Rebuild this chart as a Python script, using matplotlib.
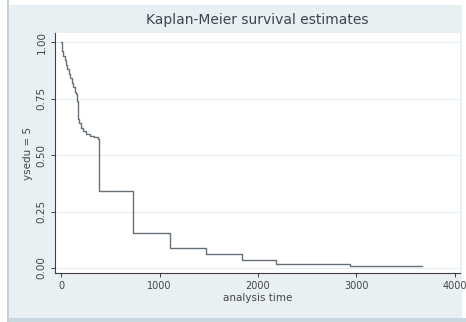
import matplotlib
matplotlib.use("Agg")
import matplotlib.pyplot as plt
from matplotlib.patches import Rectangle

# Kaplan-Meier step estimates for ysedu = 5
km_time = [0, 5, 15, 25, 40, 55, 65, 80, 95, 110, 125, 140, 155, 165, 170, 175,
           185, 200, 220, 250, 290, 330, 375, 385, 731, 1102, 1470, 1833, 2184,
           2932, 3663]
km_surv = [1.0, 0.98, 0.96, 0.94, 0.92, 0.90, 0.88, 0.86, 0.84, 0.82, 0.80, 0.78,
           0.77, 0.74, 0.70, 0.66, 0.64, 0.62, 0.605, 0.595, 0.585, 0.578, 0.572,
           0.34, 0.153, 0.09, 0.062, 0.035, 0.019, 0.009, 0.009]

x_ticks = [0, 1000, 2000, 3000, 4000]
y_ticks = [0.0, 0.25, 0.5, 0.75, 1.0]
y_tick_labels = ["0.00", "0.25", "0.50", "0.75", "1.00"]

W, H = 466, 322
fig = plt.figure(figsize=(W / 100, H / 100), dpi=100)
fig.patch.set_facecolor("white")

# graph region (light bluish grey) and window borders
fig.patches.append(Rectangle((9 / W, 4 / H), 453 / W, 313 / H, transform=fig.transFigure,
                             facecolor="#e8f0f3", edgecolor="none", zorder=-5))
fig.patches.append(Rectangle((9 / W, 0), 457 / W, 4 / H, transform=fig.transFigure,
                             facecolor="#c9d8e0", edgecolor="none", zorder=-5))
fig.patches.append(Rectangle((7 / W, 0), 1.5 / W, 1, transform=fig.transFigure,
                             facecolor="#c8d0d4", edgecolor="none", zorder=-5))

ax = fig.add_axes([55 / W, (322 - 273) / H, 405 / W, 240 / H])
ax.set_zorder(2)
ax.set_facecolor("white")

ax.step(km_time, km_surv, where="post", color="#66707a", lw=1.0)

ax.set_xlim(-61, 4051)
ax.set_ylim(-0.022, 1.04)
ax.set_xticks(x_ticks)
ax.set_xticklabels([str(v) for v in x_ticks])
ax.set_yticks(y_ticks)
ax.set_yticklabels(y_tick_labels, rotation=90, va="center")

ax.yaxis.grid(True, color="#e6eef1", lw=0.8)
ax.set_axisbelow(True)

for side in ["top", "right"]:
    ax.spines[side].set_visible(False)
for side in ["left", "bottom"]:
    ax.spines[side].set_color("#404040")
    ax.spines[side].set_linewidth(0.8)

ax.tick_params(axis="both", length=3, width=0.7, color="#404040",
               labelsize=7.5, labelcolor="#454545", pad=3)
ax.tick_params(axis="x", labelsize=7)

ax.set_xlabel("analysis time", fontsize=7.5, color="#454545", labelpad=1)
ax.set_ylabel("ysedu = 5", fontsize=7.5, color="#454545", labelpad=3)

fig.text(257 / W, 1 - 20 / H, "Kaplan-Meier survival estimates", ha="center",
         va="center", fontsize=10, color="#3c4650")

fig.savefig("out.png", dpi=100, facecolor=fig.get_facecolor())
